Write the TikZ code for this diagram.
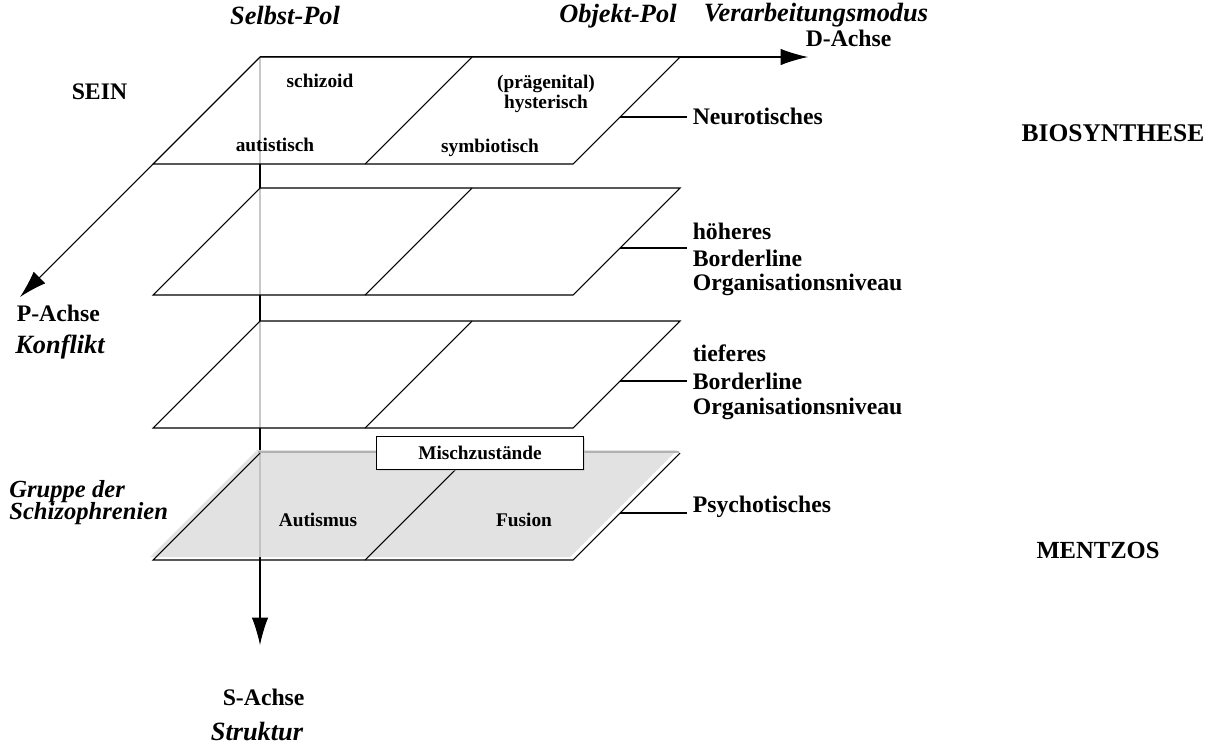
\documentclass[tikz,border=0pt]{standalone}
\usepackage{fontspec}
\setmainfont{Liberation Serif}
\usetikzlibrary{arrows.meta,shadows}

\begin{document}
\begin{tikzpicture}[x=0.02cm, y=-0.02cm, line width=0.6pt]

  \useasboundingbox (0,0) rectangle (1223,744);

  % Stile
  \tikzset{
    ebene/.style={draw, fill=white, fill opacity=0.78},
    achse/.style={-{Latex[length=0.55cm, width=0.33cm]}},
    zelle/.style={font=\fontsize{11}{13}\selectfont\bfseries},
    seite/.style={font=\fontsize{13.5}{16}\selectfont\bfseries, anchor=west, inner sep=3pt},
    titel/.style={font=\fontsize{14.5}{17}\selectfont\bfseries},
    pol/.style={font=\fontsize{15}{18}\selectfont\bfseries\itshape},
  }

  % Achsen
  \coordinate (O) at (260,57);
  \coordinate (D) at (808,57);
  \coordinate (P) at (20,297);
  \coordinate (S) at (260,645);
  \draw[achse] (O) -- (D);
  \draw[achse] (O) -- (P);
  \draw[achse] (O) -- (S);

  % Ebenen
  \foreach \T/\n in {57/1,188/2,321/3} {
    \path[ebene] (260,\T) -- (680,\T) -- (573,\T+107) -- (153,\T+107) -- cycle;
    \draw (472,\T) -- (365,\T+107);
    \coordinate (r\n) at (620,\T+60);
  }

  % Psychotische Ebene (grau)
  \fill[gray!26, fill opacity=0.88] (257,450) -- (677,450) -- (570,557) -- (150,557) -- cycle;
  \draw[gray!60, line width=1.1pt] (258,452) -- (679,452);
  \draw (680,453) -- (573,560) -- (153,560) -- (260,453);
  \draw (472,453) -- (365,560);
  \coordinate (r4) at (620,513);

  % Zellen
  \node[zelle] (schizoid) at (320,81) {schizoid};
  \node[zelle, align=center] (hyst) at (546,94) {(prägenital)\\[-2pt]hysterisch};
  \node[zelle] (autist) at (275,145) {autistisch};
  \node[zelle] (symb) at (490,148) {symbiotisch};
  \node[zelle] (autismus) at (318,520) {Autismus};
  \node[zelle] (fusion) at (524,520) {Fusion};
  \node[zelle, draw, fill=white, minimum width=4.14cm, minimum height=0.66cm,
        drop shadow={shadow xshift=1pt, shadow yshift=-1pt, fill=gray!50}] (misch) at (480,453) {Mischzustände};

  % Seitenbeschriftungen
  \node[seite] (l1) at (687,116) {Neurotisches};
  \node[seite] (l2) at (687,231) {höheres};
  \node[seite] (l2b) at (687,258) {Borderline};
  \node[seite] (l2c) at (687,285) {Organisationsniveau};
  \node[seite] (l3) at (687,353) {tieferes};
  \node[seite] (l3b) at (687,381) {Borderline};
  \node[seite] (l3c) at (687,409) {Organisationsniveau};
  \node[seite] (l4) at (687,507) {Psychotisches};

  \draw (r1) -- (r1 -| l1.west);
  \draw (r2) -- (r2 -| l2b.west);
  \draw (r3) -- (r3 -| l3b.west);
  \draw (r4) -- (r4 -| l4.west);

  % Pole
  \node[pol] (selbst) at (285,16) {Selbst-Pol};
  \node[pol] (objekt) at (618,16) {Objekt-Pol};
  \node[pol] (modus) at (816,15) {Verarbeitungsmodus};
  \node[seite] (dachse) at (800,38) {D-Achse};

  % Achsenbeschriftungen
  \node[seite] (sein) at (66,92) {SEIN};
  \node[seite] (pachse) at (11,313) {P-Achse};
  \node[pol, anchor=west] (konflikt) at (9,347) {Konflikt};
  \node[seite] (sachse) at (217,697) {S-Achse};
  \node[pol] (struktur) at (257,731) {Struktur};
  \node[pol, font=\fontsize{14}{17}\selectfont\bfseries\itshape, anchor=west] (gruppe) at (3,492) {Gruppe der};
  \node[pol, font=\fontsize{14}{17}\selectfont\bfseries\itshape, anchor=west] (schizo) at (3,514) {Schizophrenien};

  % Autoren
  \node[titel] (bio) at (1113,133) {BIOSYNTHESE};
  \node[titel, font=\fontsize{14}{17}\selectfont\bfseries] (mentzos) at (1098,550) {MENTZOS};

\end{tikzpicture}
\end{document}
